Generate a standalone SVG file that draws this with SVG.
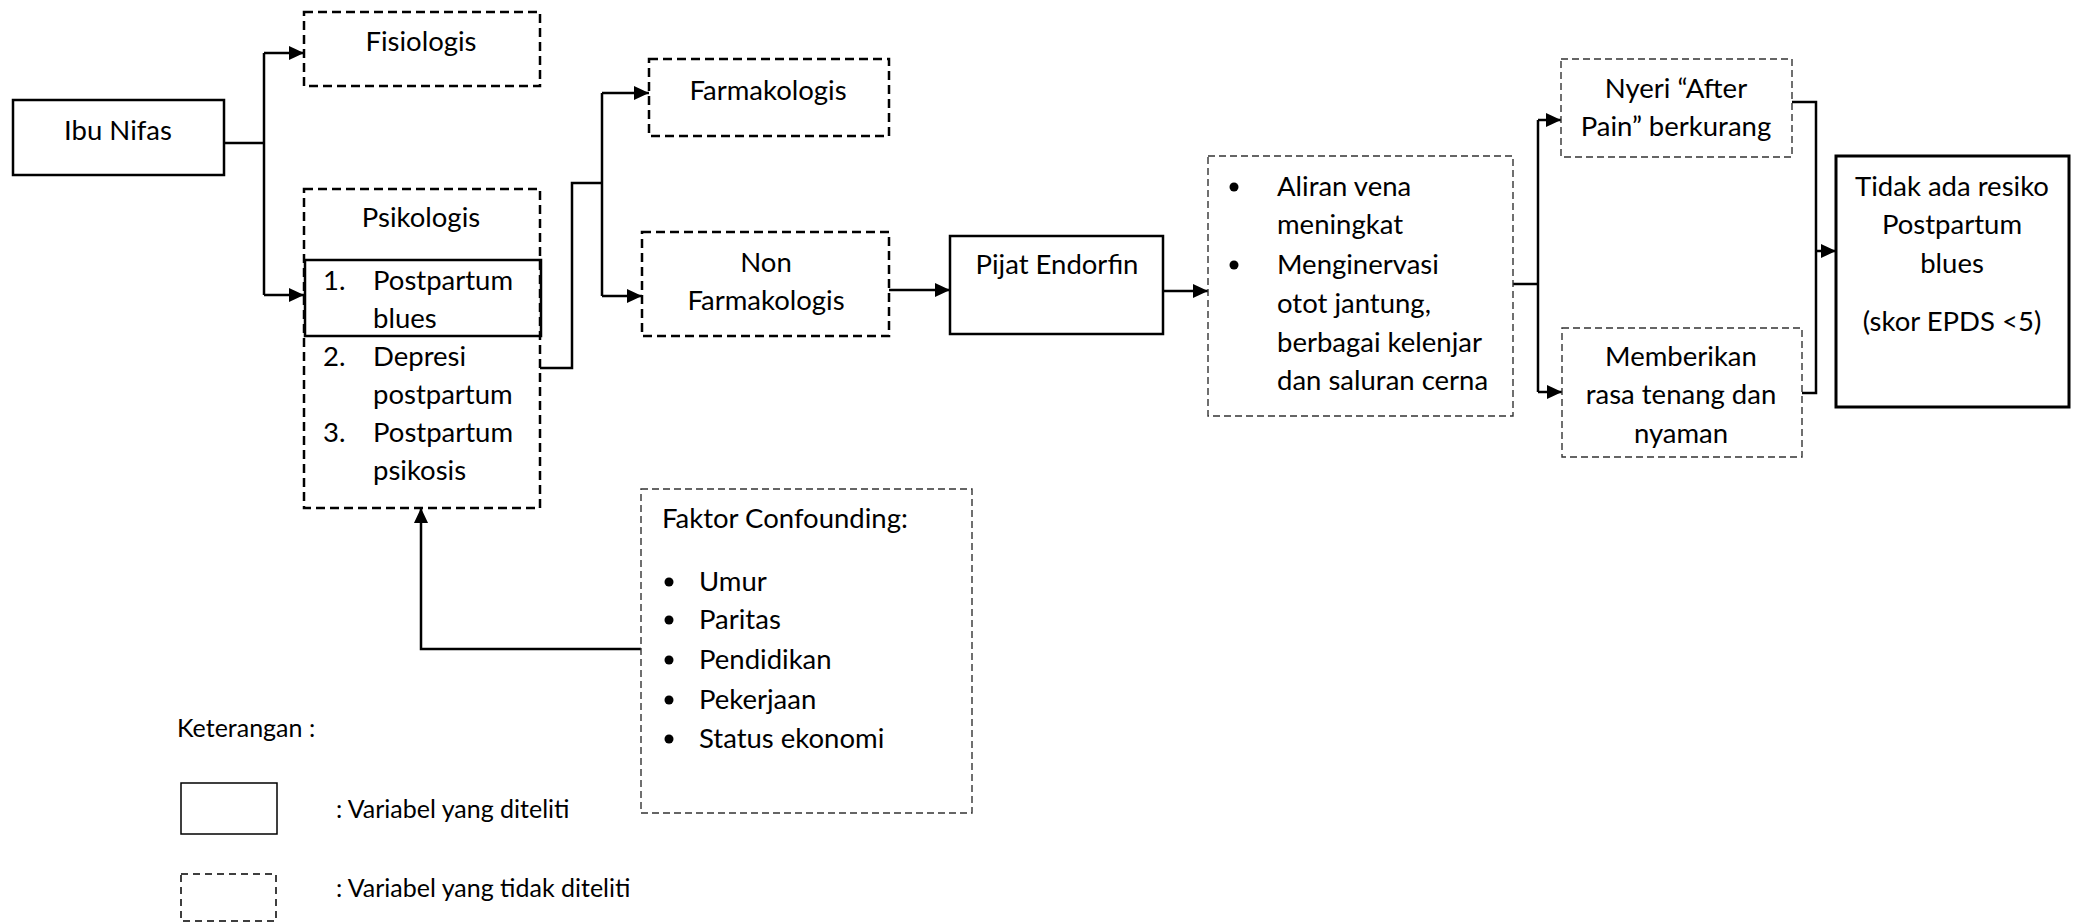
<svg xmlns="http://www.w3.org/2000/svg" width="2075" height="923" viewBox="0 0 2075 923">
<style>
text{font-family:Lato,"Open Sans","Liberation Sans",sans-serif;font-size:27.5px;fill:#000}
.c{text-anchor:middle}
.lg{font-size:25px}
.solid{fill:none;stroke:#000;stroke-width:2.5}
.thick{fill:none;stroke:#000;stroke-width:3}
.dash{fill:none;stroke:#000;stroke-width:2.5;stroke-dasharray:9 5}
.thin{fill:none;stroke:#333;stroke-width:1.4;stroke-dasharray:7 4}
.ln{fill:none;stroke:#000;stroke-width:2.5}
.arr{marker-end:url(#ah)}
</style>
<defs>
<marker id="ah" markerUnits="userSpaceOnUse" markerWidth="15" markerHeight="14" refX="15" refY="7" orient="auto">
<path d="M0,0 L15,7 L0,14 z" fill="#000"/>
</marker>
</defs>
<rect width="2075" height="923" fill="#fff"/>

<g id="connectors">
<path class="ln" d="M224,143 H264"/>
<path class="ln" d="M264,53 V295"/>
<path class="ln arr" d="M264,53 H304"/>
<path class="ln arr" d="M264,295 H304"/>
<path class="ln" d="M540,368 H572 V183 H602"/>
<path class="ln" d="M602,93 V296"/>
<path class="ln arr" d="M602,93 H649"/>
<path class="ln arr" d="M602,296 H642"/>
<path class="ln arr" d="M889,290 H950"/>
<path class="ln arr" d="M1163,291 H1208"/>
<path class="ln" d="M1513,284 H1538"/>
<path class="ln" d="M1538,120 V392"/>
<path class="ln arr" d="M1538,120 H1561"/>
<path class="ln arr" d="M1538,392 H1562"/>
<path class="ln" d="M1792,102 H1816 V393 H1802"/>
<path class="ln arr" d="M1816,251 H1836"/>
<path class="ln arr" d="M641,649 H421 V508"/>
</g>

<g id="ibu-nifas">
<rect class="solid" x="13" y="100" width="211" height="75"/>
<text class="c" x="118" y="140">Ibu Nifas</text>
</g>

<g id="fisiologis">
<rect class="dash" x="304" y="12" width="236" height="74"/>
<text class="c" x="421" y="51">Fisiologis</text>
</g>

<g id="psikologis">
<rect class="dash" x="304" y="189" width="236" height="319"/>
<text class="c" x="421" y="227">Psikologis</text>
<rect class="solid" x="305" y="260" width="236" height="76"/>
<text x="323" y="290">1.</text><text x="373" y="290">Postpartum</text>
<text x="373" y="328">blues</text>
<text x="323" y="366">2.</text><text x="373" y="366">Depresi</text>
<text x="373" y="404">postpartum</text>
<text x="323" y="442">3.</text><text x="373" y="442">Postpartum</text>
<text x="373" y="480">psikosis</text>
</g>

<g id="farmakologis">
<rect class="dash" x="649" y="59" width="240" height="77"/>
<text class="c" x="768" y="100">Farmakologis</text>
</g>

<g id="non-farmakologis">
<rect class="dash" x="642" y="232" width="247" height="104"/>
<text class="c" x="766" y="272">Non</text>
<text class="c" x="766" y="310">Farmakologis</text>
</g>

<g id="pijat-endorfin">
<rect class="solid" x="950" y="236" width="213" height="98"/>
<text class="c" x="1057" y="274">Pijat Endorfin</text>
</g>

<g id="aliran">
<rect class="thin" x="1208" y="156" width="305" height="260"/>
<circle cx="1234" cy="187" r="4.5"/>
<text x="1277" y="196">Aliran vena</text>
<text x="1277" y="234">meningkat</text>
<circle cx="1234" cy="265" r="4.5"/>
<text x="1277" y="274">Menginervasi</text>
<text x="1277" y="313">otot jantung,</text>
<text x="1277" y="352">berbagai kelenjar</text>
<text x="1277" y="390">dan saluran cerna</text>
</g>

<g id="nyeri">
<rect class="thin" x="1561" y="59" width="231" height="98"/>
<text class="c" x="1676" y="98">Nyeri “After</text>
<text class="c" x="1676" y="136">Pain” berkurang</text>
</g>

<g id="memberikan">
<rect class="thin" x="1562" y="328" width="240" height="129"/>
<text class="c" x="1681" y="366">Memberikan</text>
<text class="c" x="1681" y="404">rasa tenang dan</text>
<text class="c" x="1681" y="443">nyaman</text>
</g>

<g id="tidak-ada-resiko">
<rect class="thick" x="1836" y="156" width="233" height="251"/>
<text class="c" x="1952" y="196">Tidak ada resiko</text>
<text class="c" x="1952" y="234">Postpartum</text>
<text class="c" x="1952" y="273">blues</text>
<text class="c" x="1952" y="331">(skor EPDS &lt;5)</text>
</g>

<g id="faktor-confounding">
<rect class="thin" x="641" y="489" width="331" height="324"/>
<text x="662" y="528">Faktor Confounding:</text>
<circle cx="669" cy="582" r="4.5"/><text x="699" y="591">Umur</text>
<circle cx="669" cy="620" r="4.5"/><text x="699" y="629">Paritas</text>
<circle cx="669" cy="660" r="4.5"/><text x="699" y="669">Pendidikan</text>
<circle cx="669" cy="700" r="4.5"/><text x="699" y="709">Pekerjaan</text>
<circle cx="669" cy="739" r="4.5"/><text x="699" y="748">Status ekonomi</text>
</g>

<g id="legend">
<text class="lg" x="177" y="737">Keterangan :</text>
<rect x="181" y="783" width="96" height="51" fill="none" stroke="#000" stroke-width="1.5"/>
<text class="lg" x="336" y="818">: Variabel yang diteliti</text>
<rect x="181" y="874" width="95" height="47" fill="none" stroke="#000" stroke-width="1.5" stroke-dasharray="7 5"/>
<text class="lg" x="336" y="897">: Variabel yang tidak diteliti</text>
</g>
</svg>
